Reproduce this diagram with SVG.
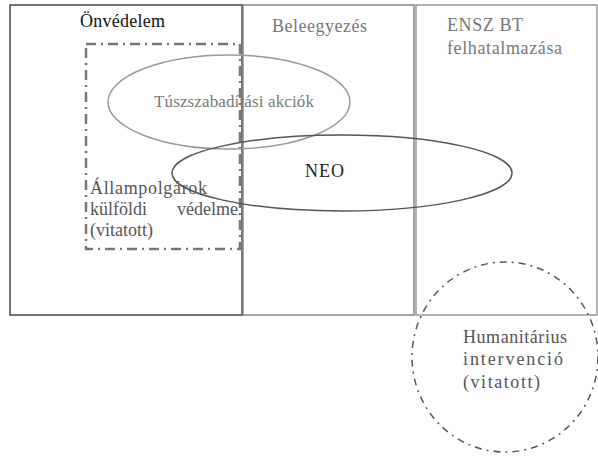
<svg xmlns="http://www.w3.org/2000/svg" width="598" height="456" viewBox="0 0 598 456" font-family="Liberation Serif, serif" font-size="18">
<style>
.box{fill:none}
.dd{fill:none;stroke:#777;stroke-width:2.5;stroke-dasharray:10 5 2 5}
.dc{fill:none;stroke:#555;stroke-width:1.5;stroke-dasharray:7 5 2 5}
</style>
<rect width="598" height="456" fill="#fff"/>
<g id="onvedelem">
<rect class="box" x="10" y="5" width="232" height="310" stroke="#444" stroke-width="1.5"/>
<text x="80" y="27" fill="#111" textLength="85" lengthAdjust="spacing">Önvédelem</text>
</g>
<g id="beleegyezes">
<rect class="box" x="243" y="5" width="171" height="310" stroke="#888" stroke-width="1.5"/>
<text x="272" y="32" fill="#777" textLength="95" lengthAdjust="spacing">Beleegyezés</text>
</g>
<g id="ensz">
<rect class="box" x="416" y="5" width="181" height="310" stroke="#999" stroke-width="1.5"/>
<text x="447" y="31" fill="#777" textLength="76" lengthAdjust="spacing">ENSZ BT</text>
<text x="447" y="54" fill="#777" textLength="115" lengthAdjust="spacing">felhatalmazása</text>
</g>
<g id="allampolgarok">
<rect class="dd" x="86" y="44" width="154" height="205"/>
<text x="90" y="194" fill="#555" textLength="117" lengthAdjust="spacing">Állampolgárok</text>
<text x="90" y="215" fill="#555">külföldi</text>
<text x="238" y="215" fill="#555" text-anchor="end">védelme</text>
<text x="90" y="236" fill="#555" textLength="63" lengthAdjust="spacing">(vitatott)</text>
</g>
<g id="tuszszabaditasi">
<ellipse cx="229" cy="102" rx="121" ry="47" fill="none" stroke="#999" stroke-width="1.5"/>
<text x="154" y="107" fill="#777" font-size="17" textLength="160" lengthAdjust="spacing">Túszszabadítási akciók</text>
</g>
<g id="neo">
<ellipse cx="342" cy="173" rx="170" ry="38" fill="none" stroke="#555" stroke-width="1.5"/>
<text x="305" y="177" fill="#222" textLength="39" lengthAdjust="spacing">NEO</text>
</g>
<g id="humanitarius">
<ellipse class="dc" cx="505" cy="357" rx="93" ry="95"/>
<text x="463" y="343" fill="#555" textLength="104" lengthAdjust="spacing">Humanitárius</text>
<text x="463" y="365" fill="#555" textLength="100" lengthAdjust="spacing">intervenció</text>
<text x="463" y="388" fill="#555" textLength="77" lengthAdjust="spacing">(vitatott)</text>
</g>
<g id="connectors"></g>
</svg>
